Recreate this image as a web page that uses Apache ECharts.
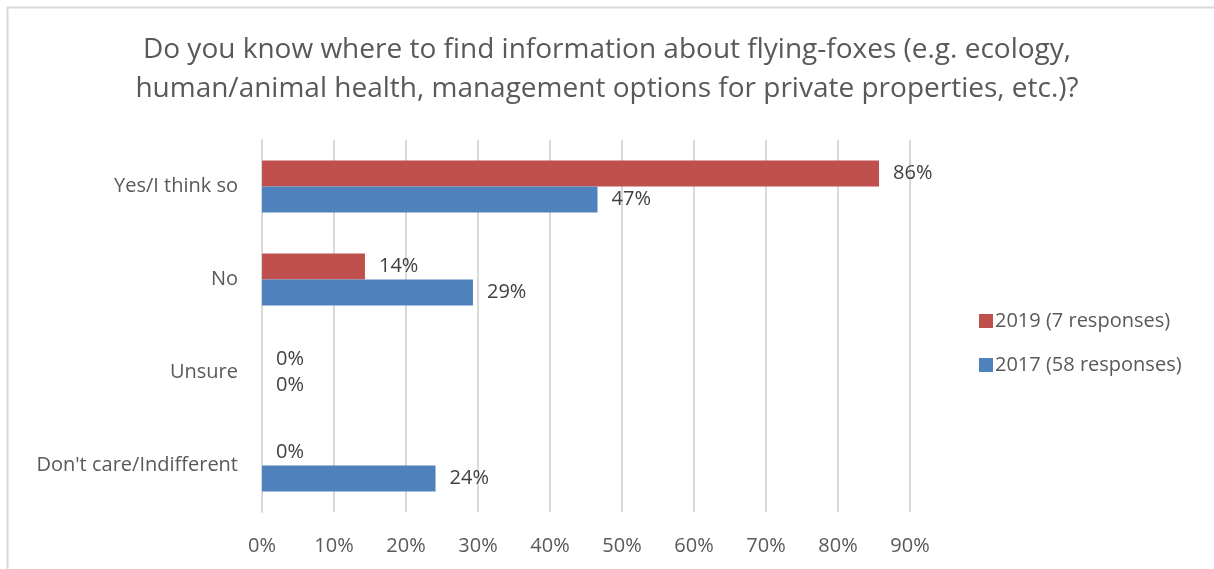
<!DOCTYPE html>
<html>
<head>
<meta charset="utf-8">
<script src="https://cdn.jsdelivr.net/npm/echarts@6/dist/echarts.min.js"></script>
<style>
  html, body { margin: 0; padding: 0; background: #fff; }
  #main { width: 1214px; height: 569px; }
</style>
</head>
<body>
<div id="main"></div>
<script>
// survey answers, top to bottom
const categories = ['Yes/I think so', 'No', 'Unsure', "Don't care/Indifferent"];
const seriesNames = ['2019 (7 responses)', '2017 (58 responses)'];
const values2019 = [85.7, 14.3, 0, 0];
const values2017 = [46.6, 29.3, 0, 24.1];
const colors = ['#C0504D', '#4F81BD'];

const font = '"Open Sans", sans-serif';

const chart = echarts.init(document.getElementById('main'), null, { renderer: 'canvas' });

function makeSeries(name, data, color) {
  return {
    name: name,
    type: 'bar',
    data: data,
    barWidth: 26,
    barGap: '0%',
    itemStyle: { color: color },
    label: {
      show: true,
      position: 'right',
      distance: 14,
      color: '#404040',
      fontFamily: font,
      fontSize: 20,
      formatter: p => Math.round(p.value) + '%'
    }
  };
}

chart.setOption({
  animation: false,
  backgroundColor: '#fff',
  title: {
    text: 'Do you know where to find information about flying-foxes (e.g. ecology,\nhuman/animal health, management options for private properties, etc.)?',
    left: 'center',
    top: 26,
    textStyle: {
      color: '#595959',
      fontFamily: font,
      fontWeight: 'normal',
      fontSize: 28,
      lineHeight: 39
    }
  },
  legend: {
    orient: 'vertical',
    left: 974,
    top: 306,
    itemWidth: 14,
    itemHeight: 14,
    itemGap: 24,
    icon: 'rect',
    data: seriesNames,
    textStyle: { color: '#595959', fontFamily: font, fontSize: 20, padding: [0, 0, 0, -3] }
  },
  grid: {
    left: 262,
    top: 140,
    width: 648,
    height: 372
  },
  xAxis: {
    type: 'value',
    min: 0,
    max: 90,
    interval: 10,
    axisLine: { show: false },
    axisTick: { show: false },
    splitLine: { lineStyle: { color: '#d9d9d9', width: 2 } },
    axisLabel: {
      color: '#595959',
      fontFamily: font,
      fontSize: 20,
      margin: 24,
      formatter: '{value}%'
    }
  },
  yAxis: {
    type: 'category',
    data: categories,
    inverse: true,
    axisLine: { show: true, lineStyle: { color: '#d9d9d9', width: 2 } },
    axisTick: { show: false },
    axisLabel: {
      color: '#595959',
      fontFamily: font,
      fontSize: 20,
      margin: 24
    }
  },
  graphic: [
    { type: 'line', shape: { x1: 7, y1: 7.5, x2: 1214, y2: 7.5 }, style: { stroke: '#d9d9d9', lineWidth: 2 } },
    { type: 'line', shape: { x1: 7.5, y1: 7, x2: 7.5, y2: 569 }, style: { stroke: '#d9d9d9', lineWidth: 2 } }
  ],
  series: [
    makeSeries(seriesNames[0], values2019, colors[0]),
    makeSeries(seriesNames[1], values2017, colors[1])
  ]
});
</script>
</body>
</html>
